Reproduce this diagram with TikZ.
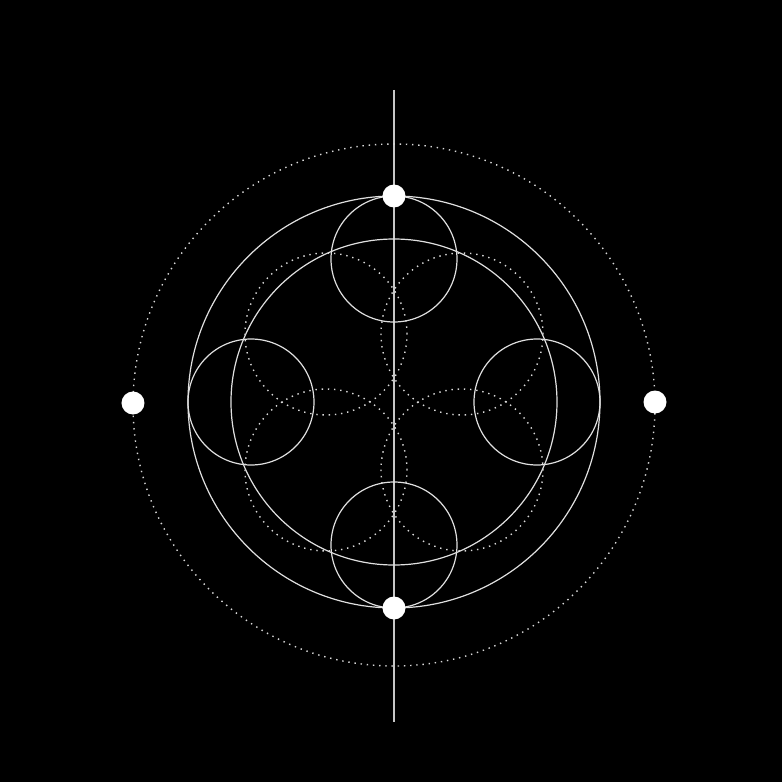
\documentclass[tikz,border=0pt]{standalone}
\usepackage{tikz}

\begin{document}
\begin{tikzpicture}[x=1pt,y=1pt,
  line/.style={white!88!black,line width=1.2pt},
  dotline/.style={white!85!black,line width=1.4pt,dash pattern=on 1.4pt off 4.8pt},
  dot/.style={circle,fill=white,inner sep=0pt,minimum size=23pt}]

  % 黑色的底,同时固定图的大小
  \fill[black] (-394,-380) rectangle (388,402);

  % 中间的竖线,两端用坐标命名
  \coordinate (up) at (0,312);
  \coordinate (down) at (0,-320);
  \draw[white!78!black,line width=1.2pt] (up) -- (down);

  % 最外面的虚点圆
  \draw[dotline] (0,-3) circle [radius=261];

  % 两个实线大圆
  \draw[line] (0,0) circle [radius=206];
  \draw[line] (0,0) circle [radius=163];

  % 上下左右四个小圆,都贴着大圆
  \foreach \p in {(0,143),(0,-143),(-143,0),(143,0)}
    \draw[line] \p circle [radius=63];

  % 四个虚点圆,交出中间的花瓣
  \foreach \p in {(-68,68),(68,68),(-68,-68),(68,-68)}
    \draw[dotline] \p circle [radius=81];

  % 四个白点
  \node[dot] (top) at (0,206) {};
  \node[dot] (bottom) at (0,-206) {};
  \node[dot] (left) at (-261,-1) {};
  \node[dot] (right) at (261,0) {};

\end{tikzpicture}
\end{document}
